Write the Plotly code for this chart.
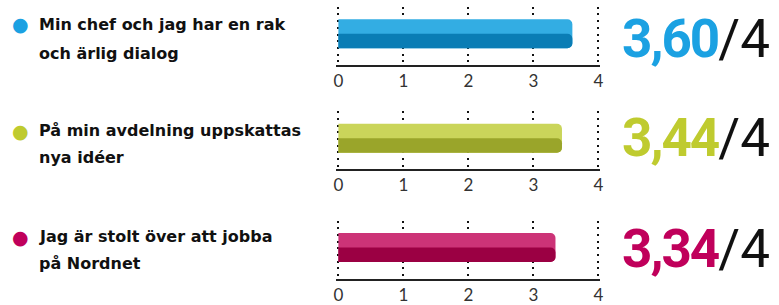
import plotly.graph_objects as go

statements = [
    ["Min chef och jag har en rak", "och ärlig dialog"],
    ["På min avdelning uppskattas", "nya idéer"],
    ["Jag är stolt över att jobba", "på Nordnet"],
]
scores = [3.60, 3.44, 3.34]
max_score = 4
tick_vals = [0, 1, 2, 3, 4]
tick_text = ["0", "1", "2", "3", "4"]
light_colors = ["#33ADE3", "#CAD55A", "#CC3377"]
dark_colors = ["#0A7DB5", "#9AA52A", "#9B0043"]
accent_colors = ["#1BA1E2", "#BFCB2F", "#C0005B"]

W, H = 779, 305
panel_px = [(7, 67), (115, 175), (228, 288)]
x0_px, x1_px = 338, 600
pad = 0.03
label_px = [(25, 55), (135, 163), (245, 272)]
score_px = [40, 143, 257]

scale = (x1_px - x0_px) / max_score
d0 = (x0_px - pad * scale) / W
d1 = (x1_px + pad * scale) / W

fig = go.Figure()
layout = dict(
    width=W, height=H, margin=dict(l=0, r=0, t=0, b=0),
    paper_bgcolor="white", plot_bgcolor="white",
    showlegend=False, barmode="overlay",
)
annotations = []
for i, v in enumerate(scores):
    n = "" if i == 0 else str(i + 1)
    xa, ya = "x" + n, "y" + n
    fig.add_trace(go.Bar(x=[v], y=[0], width=[1.0], orientation="h",
                         marker=dict(color=light_colors[i], cornerradius=5, line=dict(width=0)),
                         xaxis=xa, yaxis=ya, hoverinfo="skip"))
    fig.add_trace(go.Bar(x=[v], y=[-0.25], width=[0.5], orientation="h",
                         marker=dict(color=dark_colors[i], cornerradius=5, line=dict(width=0)),
                         xaxis=xa, yaxis=ya, hoverinfo="skip"))
    top, bot = panel_px[i]
    layout["xaxis" + n] = dict(
        domain=[d0, d1], range=[-pad, max_score + pad], anchor=ya,
        tickvals=tick_vals, ticktext=tick_text, ticks="",
        showgrid=True, gridcolor="#111", gridwidth=2, griddash="2px,4.7px",
        zeroline=False, showline=True, linecolor="#222", linewidth=1.5,
        tickfont=dict(family="Lato", size=17, color="#333"), fixedrange=True,
    )
    layout["yaxis" + n] = dict(
        domain=[1 - bot / H, 1 - top / H], range=[-1.07, 0.93], anchor=xa,
        showgrid=False, zeroline=False, showticklabels=False, showline=False,
        fixedrange=True,
    )
    l1, l2 = label_px[i]
    annotations.append(dict(xref="paper", yref="paper", x=18 / W, y=1 - l1 / H,
                            text="●", showarrow=False, xanchor="center", yanchor="middle",
                            font=dict(size=19, color=accent_colors[i], family="DejaVu Sans")))
    annotations.append(dict(xref="paper", yref="paper", x=34 / W, y=1 - l1 / H,
                            text="<b>" + statements[i][0] + "</b>", showarrow=False,
                            xanchor="left", yanchor="middle",
                            font=dict(size=16, color="#111", family="DejaVu Sans")))
    annotations.append(dict(xref="paper", yref="paper", x=34 / W, y=1 - l2 / H,
                            text="<b>" + statements[i][1] + "</b>", showarrow=False,
                            xanchor="left", yanchor="middle",
                            font=dict(size=16, color="#111", family="DejaVu Sans")))
    score_txt = f"{v:.2f}".replace(".", ",")
    annotations.append(dict(xref="paper", yref="paper", x=775 / W, y=1 - score_px[i] / H,
                            text=(f"<b><span style='color:{accent_colors[i]};letter-spacing:-2px'>"
                                  f"{score_txt}</span></b>/{max_score}"),
                            showarrow=False, xanchor="right", yanchor="middle",
                            font=dict(size=53, color="#111", family="Roboto")))

layout["annotations"] = annotations
fig.update_layout(**layout)
fig.write_html("out.html", post_script="document.body.style.margin='0';",
               config={"displayModeBar": False})
